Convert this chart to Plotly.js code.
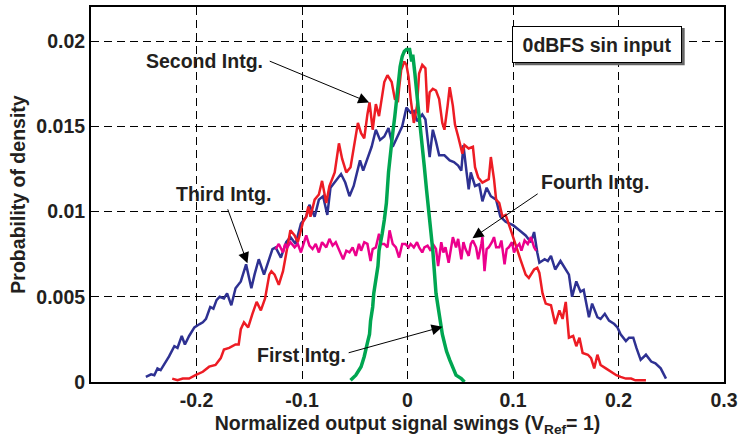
<!DOCTYPE html>
<html>
<head>
<meta charset="utf-8">
<script src="https://cdn.plot.ly/plotly-3.0.1.min.js"></script>
<style>html,body{margin:0;padding:0;background:#fff;}#chart{width:738px;height:437px;}</style>
</head>
<body>
<div id="chart"></div>
<script>
// Third integrator (blue)
var thirdX = [-0.248,-0.243,-0.240,-0.237,-0.234,-0.231,-0.226,-0.221,-0.218,-0.214,
  -0.211,-0.207,-0.202,-0.197,-0.194,-0.191,-0.187,-0.184,-0.181,-0.178,
  -0.174,-0.171,-0.167,-0.163,-0.158,-0.153,-0.148,-0.145,-0.141,-0.136,
  -0.130,-0.128,-0.125,-0.120,-0.115,-0.111,-0.106,-0.101,-0.096,-0.093,
  -0.088,-0.084,-0.080,-0.076,-0.073,-0.068,-0.063,-0.059,-0.055,-0.051,
  -0.048,-0.045,-0.042,-0.038,-0.034,-0.030,-0.026,-0.022,-0.018,-0.014,
  -0.009,-0.005,-0.001,0.003,0.006,0.009,0.014,0.017,0.021,0.024,
  0.027,0.030,0.035,0.040,0.044,0.048,0.051,0.053,0.056,0.058,
  0.060,0.064,0.068,0.071,0.075,0.079,0.084,0.088,0.093,0.100,
  0.106,0.112,0.117,0.120,0.123,0.125,0.130,0.133,0.136,0.140,
  0.145,0.150,0.153,0.156,0.160,0.164,0.167,0.172,0.175,0.180,
  0.183,0.187,0.191,0.196,0.199,0.202,0.207,0.210,0.214,0.217,
  0.221,0.226,0.231,0.235,0.240,0.245];
var thirdY = [0.0003,0.00045,0.0004,0.0008,0.0007,0.0010,0.0015,0.0021,0.0020,0.0027,
  0.0022,0.0027,0.0032,0.0034,0.0035,0.0037,0.0044,0.0043,0.0048,0.0050,
  0.0049,0.0052,0.0045,0.0055,0.0059,0.0069,0.0055,0.0063,0.0072,0.0063,
  0.0074,0.0078,0.0079,0.0073,0.0082,0.0085,0.0081,0.0093,0.0097,0.0104,
  0.0097,0.0107,0.0109,0.0098,0.0114,0.0118,0.0122,0.0117,0.0109,0.0115,
  0.0123,0.0130,0.0124,0.0131,0.0138,0.0148,0.0142,0.0144,0.0149,0.0138,
  0.0145,0.0150,0.0161,0.0158,0.0159,0.0153,0.0157,0.0154,0.0132,0.0148,
  0.0141,0.0133,0.0133,0.0130,0.0129,0.0127,0.0124,0.0139,0.0123,0.0113,
  0.0123,0.0115,0.0116,0.0106,0.0114,0.0109,0.0107,0.0097,0.0094,0.0092,
  0.0089,0.0086,0.0082,0.0088,0.0076,0.0070,0.0072,0.0071,0.0074,0.0066,
  0.0071,0.0066,0.0063,0.0050,0.0059,0.0053,0.0054,0.0038,0.0046,0.0038,
  0.0037,0.0040,0.0036,0.0034,0.0032,0.0028,0.0024,0.0026,0.0026,0.0020,
  0.0013,0.0016,0.0012,0.0011,0.0008,0.0002];

// Second integrator (red)
var secondX = [-0.223,-0.218,-0.213,-0.207,-0.201,-0.194,-0.188,-0.182,-0.177,-0.174,
  -0.169,-0.163,-0.160,-0.158,-0.155,-0.151,-0.147,-0.143,-0.139,-0.135,
  -0.131,-0.129,-0.126,-0.122,-0.118,-0.115,-0.113,-0.111,-0.107,-0.104,
  -0.101,-0.099,-0.096,-0.094,-0.092,-0.088,-0.084,-0.081,-0.077,-0.074,
  -0.069,-0.065,-0.062,-0.058,-0.054,-0.050,-0.047,-0.044,-0.041,-0.038,
  -0.036,-0.033,-0.030,-0.027,-0.022,-0.019,-0.015,-0.012,-0.009,-0.008,
  -0.006,-0.003,-0.001,0.001,0.003,0.006,0.009,0.011,0.014,0.017,
  0.019,0.021,0.024,0.027,0.030,0.033,0.035,0.038,0.040,0.043,
  0.045,0.048,0.052,0.054,0.058,0.062,0.064,0.067,0.071,0.074,
  0.077,0.079,0.082,0.084,0.087,0.090,0.093,0.098,0.103,0.107,
  0.112,0.115,0.120,0.123,0.125,0.128,0.131,0.136,0.140,0.144,
  0.147,0.150,0.153,0.157,0.160,0.163,0.166,0.171,0.174,0.177,
  0.180,0.183,0.188,0.193,0.198,0.202,0.207,0.212,0.216,0.221,
  0.226];
var secondY = [0.0002,0.0001,0.0002,0.0002,0.0004,0.0006,0.0009,0.0010,0.0014,0.0019,
  0.0020,0.0022,0.0022,0.0031,0.0035,0.0032,0.0040,0.0047,0.0042,0.0049,
  0.0063,0.0065,0.0063,0.0057,0.0065,0.0076,0.0084,0.0089,0.0086,0.0082,
  0.0089,0.0094,0.0097,0.0103,0.0097,0.0107,0.0110,0.0118,0.0105,0.0115,
  0.0123,0.0140,0.0131,0.0123,0.0126,0.0142,0.0152,0.0146,0.0143,0.0157,
  0.0164,0.0148,0.0163,0.0156,0.0176,0.0180,0.0176,0.0166,0.0165,0.0172,
  0.0183,0.0188,0.0186,0.0179,0.0166,0.0152,0.0162,0.0181,0.0186,0.0184,
  0.0158,0.0170,0.0172,0.0171,0.0166,0.0152,0.0148,0.0162,0.0173,0.0162,
  0.0151,0.0144,0.0134,0.0139,0.0137,0.0138,0.0126,0.0120,0.0117,0.0118,
  0.0119,0.0132,0.0119,0.0107,0.0105,0.0097,0.0098,0.0089,0.0079,0.0072,
  0.0063,0.0061,0.0066,0.0067,0.0064,0.0052,0.0046,0.0045,0.0034,0.0042,
  0.0037,0.0047,0.0026,0.0027,0.0021,0.0026,0.0017,0.0016,0.0014,0.0008,
  0.0016,0.0010,0.0008,0.0006,0.0004,0.0003,0.0002,0.0002,0.0001,0.0001,
  0.0001];

// Fourth integrator (magenta)
var fourthX = [-0.125,-0.122,-0.118,-0.116,-0.114,-0.111,-0.107,-0.104,-0.101,-0.098,
  -0.096,-0.093,-0.090,-0.087,-0.084,-0.081,-0.077,-0.074,-0.071,-0.068,
  -0.065,-0.061,-0.058,-0.055,-0.052,-0.049,-0.046,-0.044,-0.041,-0.038,
  -0.035,-0.033,-0.030,-0.027,-0.025,-0.022,-0.019,-0.017,-0.014,-0.011,
  -0.008,-0.005,-0.002,0.001,0.003,0.006,0.009,0.011,0.014,0.016,
  0.019,0.022,0.024,0.027,0.029,0.032,0.034,0.036,0.039,0.041,
  0.043,0.046,0.048,0.051,0.053,0.055,0.058,0.060,0.062,0.065,
  0.067,0.070,0.071,0.073,0.075,0.077,0.080,0.082,0.084,0.087,
  0.089,0.092,0.094,0.096,0.099,0.101,0.103,0.106,0.108,0.111,
  0.114,0.117,0.120,0.122];
var fourthY = [0.0078,0.0081,0.0076,0.0081,0.0079,0.0082,0.0079,0.0081,0.0076,0.0083,
  0.0086,0.0080,0.0078,0.0081,0.0076,0.0082,0.0079,0.0084,0.0080,0.0082,
  0.0078,0.0072,0.0077,0.0076,0.0079,0.0074,0.0081,0.0077,0.0082,0.0081,
  0.0071,0.0078,0.0079,0.0087,0.0081,0.0081,0.0079,0.0089,0.0081,0.0079,
  0.0073,0.0081,0.0081,0.0079,0.0081,0.0079,0.0082,0.0079,0.0076,0.0079,
  0.0080,0.0077,0.0081,0.0078,0.0068,0.0082,0.0076,0.0079,0.0070,0.0079,
  0.0085,0.0079,0.0084,0.0072,0.0082,0.0078,0.0074,0.0081,0.0083,0.0079,
  0.0072,0.0081,0.0085,0.0065,0.0078,0.0079,0.0082,0.0085,0.0079,0.0079,
  0.0083,0.0069,0.0078,0.0079,0.0082,0.0076,0.0079,0.0081,0.0077,0.0083,
  0.0081,0.0085,0.0079,0.0077];

// First integrator (green)
var firstX = [-0.054,-0.049,-0.044,-0.041,-0.038,-0.036,-0.035,-0.033,-0.032,-0.030,
  -0.028,-0.027,-0.025,-0.024,-0.022,-0.020,-0.018,-0.016,-0.014,-0.012,
  -0.010,-0.009,-0.007,-0.005,-0.003,-0.001,0.002,0.004,0.005,0.007,
  0.009,0.010,0.012,0.014,0.016,0.018,0.020,0.022,0.024,0.025,
  0.027,0.029,0.031,0.033,0.035,0.037,0.040,0.043,0.046,0.051,
  0.054];
var firstY = [0.0001,0.0004,0.0009,0.0015,0.0023,0.0028,0.0036,0.0044,0.0052,0.0060,
  0.0068,0.0077,0.0083,0.0087,0.0095,0.0105,0.0123,0.0136,0.0146,0.0156,
  0.0168,0.0177,0.0185,0.0191,0.0194,0.0195,0.0195,0.0188,0.0192,0.0181,
  0.0166,0.0162,0.0150,0.0140,0.0126,0.0113,0.0103,0.0089,0.0077,0.0066,
  0.0052,0.0044,0.0034,0.0028,0.0023,0.0018,0.0013,0.0008,0.0004,0.0002,
  0.0000];

var xTickVals = [-0.2, -0.1, 0, 0.1, 0.2, 0.3];
var xTickText = ['-0.2', '-0.1', '0', '0.1', '0.2', '0.3'];
var yTickVals = [0, 0.005, 0.01, 0.015, 0.02];
var yTickText = ['0', '0.005', '0.01', '0.015', '0.02'];

var labelText = ['Second Intg.', 'Third Intg.', 'Fourth Intg.', 'First Intg.'];
var labelX = [-0.1922, -0.1742, 0.1773, -0.1003];
var labelY = [0.01886, 0.01104, 0.01175, 0.00157];
var arrowTailX = [-0.132, -0.1709, 0.1248, -0.0572];
var arrowTailY = [0.01886, 0.01022, 0.0111, 0.00169];
var arrowTipX = [-0.0363, -0.1517, 0.0616, 0.0332];
var arrowTipY = [0.0164, 0.00696, 0.00844, 0.00324];

var FONT = '"Liberation Sans", Arial, Helvetica, sans-serif';
var TXT = '#231f20';
var FS = 19.5;

var traces = [
  {x: thirdX, y: thirdY, mode: 'lines', line: {color: '#2e3192', width: 2.5}, name: 'Third Intg.'},
  {x: secondX, y: secondY, mode: 'lines', line: {color: '#ed1c24', width: 2.5}, name: 'Second Intg.'},
  {x: fourthX, y: fourthY, mode: 'lines', line: {color: '#ec008c', width: 2.5}, name: 'Fourth Intg.'},
  {x: firstX, y: firstY, mode: 'lines', line: {color: '#00a651', width: 3.5}, name: 'First Intg.'}
];

var annotations = [];
for (var i = 0; i < labelText.length; i++) {
  annotations.push({x: labelX[i], y: labelY[i], xref: 'x', yref: 'y', text: labelText[i],
    showarrow: false, xanchor: 'center', yanchor: 'middle',
    font: {family: FONT, size: FS, color: TXT, weight: 'bold'}});
  annotations.push({x: arrowTipX[i], y: arrowTipY[i], ax: arrowTailX[i], ay: arrowTailY[i],
    xref: 'x', yref: 'y', axref: 'x', ayref: 'y', text: '', showarrow: true,
    arrowhead: 2, arrowsize: 2.2, arrowwidth: 1, arrowcolor: '#000', standoff: 0, startstandoff: 0});
}
annotations.push({x: 0.1793, y: 0.01981, xref: 'x', yref: 'y', text: '0dBFS sin input',
  showarrow: false, xanchor: 'center', yanchor: 'middle', width: 168, height: 35,
  borderpad: 0, bordercolor: '#000', borderwidth: 1, bgcolor: '#fff',
  font: {family: FONT, size: FS, color: TXT, weight: 'bold'}});

var axisCommon = {
  showline: true, linecolor: '#000', linewidth: 2, mirror: true,
  showgrid: true, gridcolor: '#000', gridwidth: 1, griddash: '8px,5px',
  zeroline: false, ticks: '', tickmode: 'array',
  tickfont: {family: FONT, size: FS, color: TXT, weight: 'bold'}
};

var layout = {
  width: 738, height: 437,
  margin: {l: 91, r: 14, t: 7, b: 55},
  paper_bgcolor: '#fff', plot_bgcolor: '#fff',
  showlegend: false,
  font: {family: FONT, color: TXT},
  xaxis: Object.assign({}, axisCommon, {
    range: [-0.3, 0.3], tickvals: xTickVals, ticktext: xTickText,
    title: {text: 'Normalized output signal swings (V<sub>Ref</sub>= 1)', standoff: 6,
      font: {family: FONT, size: FS, color: TXT, weight: 'bold'}}
  }),
  yaxis: Object.assign({}, axisCommon, {
    range: [0, 0.022], tickvals: yTickVals, ticktext: yTickText,
    title: {text: 'Probability of density', standoff: 5,
      font: {family: FONT, size: FS, color: TXT, weight: 'bold'}}
  }),
  shapes: [{type: 'rect', xref: 'paper', yref: 'paper', layer: 'above',
    x0: 0.6694, x1: 0.9379, y0: 0.8445, y1: 0.9440,
    fillcolor: '#666', line: {width: 0}}],
  annotations: annotations
};

Plotly.newPlot('chart', traces, layout, {displayModeBar: false, staticPlot: true});
</script>
</body>
</html>
